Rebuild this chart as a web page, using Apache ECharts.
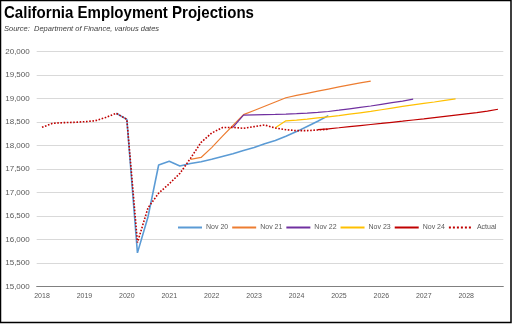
<!DOCTYPE html>
<html lang="en" style="height: 100%">
<head>
  <meta charset="utf-8">
</head>
<body style="height: 100%; margin: 0">
  <div id="container" style="width: 512px; height: 324px"></div>

  <script type="text/javascript" src="https://cdn.jsdelivr.net/npm/echarts@6/dist/echarts.min.js"></script>

  <script type="text/javascript">
    // quarterly axis, 2018Q1 .. 2028Q4
    var years = [2018, 2019, 2020, 2021, 2022, 2023, 2024, 2025, 2026, 2027, 2028];
    var quarters = [];
    years.forEach(function (y) {
      for (var q = 1; q <= 4; q++) quarters.push(y + 'Q' + q);
    });

    // employment, thousands; each series begins at its start quarter
    var actualStart = '2018Q1';
    var actual = [18390, 18477, 18490, 18497, 18510, 18530, 18600, 18690,
                  18560, 15940, 16680, 16990, 17190, 17410, 17730, 18070,
                  18270, 18385, 18390, 18370, 18405, 18440, 18375, 18340,
                  18320, 18320, 18335, 18350];

    var nov20Start = '2019Q4';
    var nov20 = [18690, 18560, 15720, 16490, 17590, 17670, 17570, 17620,
                 17660, 17710, 17770, 17830, 17900, 17960, 18040, 18110,
                 18200, 18300, 18410, 18520, 18640];

    var nov21Start = '2021Q3';
    var nov21 = [17710, 17750, 17960, 18200, 18430, 18660, 18750, 18840,
                 18930, 19020, 19070, 19115, 19160, 19205, 19250, 19295,
                 19335, 19375];

    var nov22Start = '2022Q3';
    var nov22 = [18390, 18650, 18655, 18660, 18665, 18672, 18682, 18695,
                 18710, 18728, 18755, 18785, 18815, 18845, 18880, 18915,
                 18950, 18990];

    var nov23Start = '2023Q3';
    var nov23 = [18380, 18530, 18545, 18565, 18590, 18615, 18640, 18670,
                 18700, 18730, 18765, 18800, 18835, 18870, 18900, 18930,
                 18965, 18995];

    var nov24Start = '2024Q3';
    var nov24 = [18340, 18360, 18382, 18405, 18428, 18451, 18474, 18498,
                 18522, 18547, 18572, 18598, 18624, 18650, 18677, 18704,
                 18737, 18775];

    function place(start, values) {
      var out = quarters.map(function () { return null; });
      var i0 = quarters.indexOf(start);
      values.forEach(function (v, k) { out[i0 + k] = v; });
      return out;
    }

    var fontFamily = "'Liberation Sans', Arial, sans-serif";

    function line(name, color, width, data, type) {
      return {
        name: name,
        type: 'line',
        data: data,
        symbol: 'none',
        connectNulls: false,
        lineStyle: { color: color, width: width, type: type || 'solid' },
        itemStyle: { color: color },
        emphasis: { disabled: true }
      };
    }

    var dom = document.getElementById('container');
    var myChart = echarts.init(dom, null, { renderer: 'canvas' });

    var option = {
      animation: false,
      textStyle: { fontFamily: fontFamily },
      legend: {
        left: 177,
        top: 224,
        itemWidth: 24,
        itemHeight: 8,
        itemGap: 3,
        padding: 0,
        itemStyle: { opacity: 0 },
        textStyle: { fontSize: 7, color: '#595959', padding: [0, 0, 0, -1] },
        data: ['Nov 20', 'Nov 21', 'Nov 22', 'Nov 23', 'Nov 24', 'Actual']
      },
      grid: { left: 36.7, right: 8.7, top: 51.7, bottom: 37.3 },
      xAxis: [{
        type: 'category',
        data: quarters,
        boundaryGap: true,
        axisLine: { lineStyle: { color: '#808080', width: 1 } },
        axisTick: { interval: 0, length: 2.5, lineStyle: { color: '#000' } },
        axisLabel: {
          interval: 3,
          margin: 6,
          fontSize: 7,
          color: '#595959',
          formatter: function (v) { return v.slice(0, 4); }
        },
        splitLine: { show: false }
      }, {
        // second copy of the axis so ticks also rise above the baseline
        type: 'category',
        data: quarters,
        position: 'bottom',
        boundaryGap: true,
        axisLine: { show: false },
        axisTick: { interval: 0, inside: true, length: 2.5, lineStyle: { color: '#000' } },
        axisLabel: { show: false }
      }],
      yAxis: {
        type: 'value',
        min: 15000,
        max: 20000,
        interval: 500,
        axisLine: { show: false },
        axisTick: { show: false },
        axisLabel: {
          fontSize: 8,
          color: '#595959',
          margin: 7,
          formatter: function (v) { return v.toLocaleString('en-US'); }
        },
        splitLine: { lineStyle: { color: '#d9d9d9', width: 1 } }
      },
      graphic: [{
        type: 'text',
        x: 4,
        y: 5,
        scaleX: 0.885,
        style: {
          text: 'California Employment Projections',
          font: 'bold 17px ' + fontFamily,
          fill: '#000'
        },
        silent: true
      }, {
        type: 'text',
        x: 4,
        y: 25,
        style: {
          text: 'Source:  Department of Finance, various dates',
          font: 'italic 7.5px ' + fontFamily,
          fill: '#404040'
        },
        silent: true
      }, {
        type: 'rect',
        shape: { x: 0.5, y: 0.5, width: 510.5, height: 322 },
        style: { fill: 'none', stroke: '#000', lineWidth: 1.5 },
        silent: true
      }],
      series: [
        line('Nov 20', '#5b9bd5', 1.6, place(nov20Start, nov20)),
        line('Nov 21', '#ed7d31', 1.2, place(nov21Start, nov21)),
        line('Nov 22', '#7030a0', 1.2, place(nov22Start, nov22)),
        line('Nov 23', '#ffc000', 1.2, place(nov23Start, nov23)),
        line('Nov 24', '#c00000', 1.2, place(nov24Start, nov24)),
        line('Actual', '#c00000', 1.6, place(actualStart, actual), 'dotted')
      ]
    };

    myChart.setOption(option);
    window.addEventListener('resize', myChart.resize);
  </script>
</body>
</html>
